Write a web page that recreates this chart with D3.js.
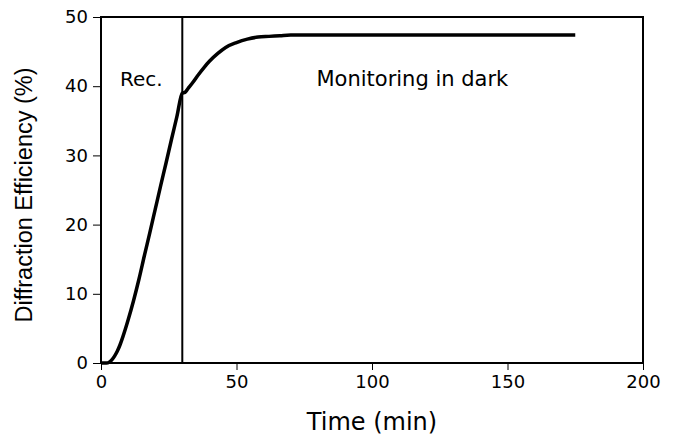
<!DOCTYPE html>
<html>
<head>
<meta charset="utf-8">
<script src="https://cdn.jsdelivr.net/npm/d3@7"></script>
<style>
  body { margin: 0; background: #fff; }
  svg { display: block; }
</style>
</head>
<body>
<div id="plot-container"></div>
<script>
// values
const timeMin = [0, 1, 2, 3, 4, 5, 6, 7, 8, 10, 12, 14, 16, 18, 20, 22, 24, 26, 28, 30,
  31, 32, 34, 36, 38, 40, 43, 46, 50, 54, 58, 62, 66, 70, 80, 100, 120, 150, 175];
const efficiency = [0, 0, 0, 0.1, 0.45, 1.0, 1.7, 2.6, 3.7, 6.2, 9.0, 12.1, 15.5, 18.8, 22.2, 25.6, 28.9, 32.3, 35.6, 39,
  39.1, 39.6, 40.6, 41.7, 42.7, 43.6, 44.7, 45.6, 46.3, 46.8, 47.1, 47.2, 47.3, 47.4, 47.4, 47.4, 47.4, 47.4, 47.4];
const xTicks = [0, 50, 100, 150, 200];
const yTicks = [0, 10, 20, 30, 40, 50];
const recordEnd = 30;
const labels = { rec: 'Rec.', dark: 'Monitoring in dark' };

const canvasWidth = 678;
const canvasHeight = 442;
const margin = { top: 17, right: 35, bottom: 79, left: 101 };
const innerW = canvasWidth - margin.left - margin.right;
const innerH = canvasHeight - margin.top - margin.bottom;

const svg = d3.select('#plot-container')
  .append('svg')
  .attr('width', canvasWidth)
  .attr('height', canvasHeight);

const g = svg.append('g').attr('transform', `translate(${margin.left}, ${margin.top})`);

const xScale = d3.scaleLinear().domain([0, 200]).range([0, innerW]);
const yScale = d3.scaleLinear().domain([0, 50]).range([innerH, 0]);

const tickFont = 'DejaVu Sans, Verdana, sans-serif';

const xAxis = g.append('g')
  .attr('transform', `translate(0, ${innerH})`)
  .call(d3.axisBottom(xScale).tickValues(xTicks).tickSize(7).tickPadding(5).tickSizeOuter(0));
const yAxis = g.append('g')
  .call(d3.axisLeft(yScale).tickValues(yTicks).tickSize(8).tickPadding(5).tickSizeOuter(0));

[xAxis, yAxis].forEach(ax => {
  ax.select('.domain').remove();
  ax.selectAll('line').attr('stroke', '#000').attr('stroke-width', 1);
  ax.selectAll('text').attr('fill', '#000').style('font-family', tickFont).style('font-size', '18px');
});

// frame
g.append('rect')
  .attr('x', 0).attr('y', 0)
  .attr('width', innerW).attr('height', innerH)
  .attr('fill', 'none')
  .attr('stroke', '#000')
  .attr('stroke-width', 2);

// end of recording
g.append('line')
  .attr('x1', xScale(recordEnd)).attr('x2', xScale(recordEnd))
  .attr('y1', 0).attr('y2', innerH)
  .attr('stroke', '#000')
  .attr('stroke-width', 2);

const D = timeMin.map((t, i) => [t, efficiency[i]]);
const line = d3.line()
  .curve(d3.curveMonotoneX)
  .x(d => xScale(d[0]))
  .y(d => yScale(d[1]));

g.append('path')
  .attr('d', line(D))
  .attr('fill', 'none')
  .attr('stroke', '#000')
  .attr('stroke-width', 3.5)
  .attr('stroke-linejoin', 'round');

g.append('text')
  .attr('x', xScale(7)).attr('y', yScale(40))
  .style('font-family', tickFont).style('font-size', '20px')
  .text(labels.rec);
g.append('text')
  .attr('x', xScale(79.5)).attr('y', yScale(40))
  .style('font-family', tickFont).style('font-size', '21px')
  .text(labels.dark);

// axis titles
svg.append('text')
  .attr('x', margin.left + innerW / 2).attr('y', 430)
  .attr('text-anchor', 'middle')
  .style('font-family', tickFont).style('font-size', '24px')
  .text('Time (min)');
svg.append('text')
  .attr('transform', `translate(32, ${margin.top + innerH / 2 + 5}) rotate(-90)`)
  .attr('text-anchor', 'middle')
  .style('font-family', 'Liberation Sans, Arial, sans-serif').style('font-size', '23.5px')
  .text('Diffraction Efficiency (%)');
</script>
</body>
</html>
